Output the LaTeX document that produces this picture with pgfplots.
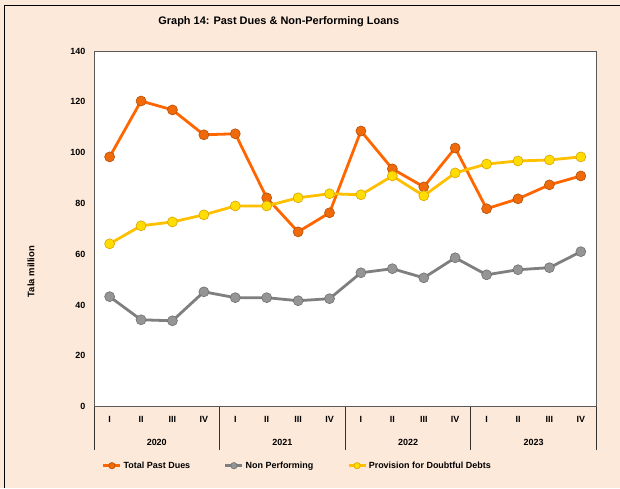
\documentclass[border=0pt]{standalone}
\usepackage{fontspec}
\setmainfont{Liberation Sans}
\usepackage{pgfplots}
\pgfplotsset{compat=1.18}
\definecolor{bg}{HTML}{FDE9DA}
\definecolor{tpd}{HTML}{FF6600}
\definecolor{tpdm}{HTML}{F06A0A}
\definecolor{np}{HTML}{7F7F7F}
\definecolor{npm}{HTML}{959595}
\definecolor{pdd}{HTML}{FFC000}
\definecolor{pddm}{HTML}{FFDD00}
\begin{document}
\begin{tikzpicture}[x=1bp,y=1bp]
\fill[bg] (0,0) rectangle (620,488);
\draw[black, line width=1bp] (5,0) -- (5,482) -- (620,482);
\node[font=\bfseries\fontsize{11}{13}\selectfont] at (279,466) {Graph 14: Past Dues \& Non-Performing Loans};
\begin{axis}[
  at={(94bp,81bp)}, anchor=south west,
  scale only axis, width=503bp, height=356bp,
  xmin=-0.5, xmax=15.5, ymin=0, ymax=140,
  ytick={0,20,...,140},
  xtick={0,...,15},
  xticklabels={I,II,III,IV,I,II,III,IV,I,II,III,IV,I,II,III,IV},
  major tick length=0,
  axis background/.style={fill=white},
  axis line style={draw=black!65, line width=0.8bp},
  tick label style={font=\bfseries\fontsize{9}{10}\selectfont},
  /pgf/number format/assume math mode=true,
  yticklabel style={xshift=-5bp},
  xticklabel style={yshift=-6bp},
  ylabel={Tala million},
  ylabel style={font=\bfseries\fontsize{9.5}{11}\selectfont, at={(axis description cs:-0.125,0.38)}, anchor=center, rotate=0},
  clip=false,
  legend columns=3,
  legend style={at={(0.405,-0.166)}, anchor=center, draw=none, fill=none,
    font=\bfseries\fontsize{9}{10}\selectfont,
    /tikz/every odd column/.append style={column sep=0bp},
    /tikz/every even column/.append style={column sep=32bp}},
  legend image code/.code={
    \draw[#1, line width=2.5bp] (0bp,0bp) -- (17bp,0bp);
    \draw[#1, mark size=3.2bp] plot coordinates {(8.5bp,0bp)};
  },
]
\addplot[tpd, line width=2.8bp, mark=*, mark size=5bp, mark options={fill=tpdm, draw=tpdm!75!black, line width=0.6bp}] coordinates {
(0,98.3) (1,120.3) (2,116.8) (3,107) (4,107.4) (5,82.2) (6,68.8) (7,76.3)
(8,108.5) (9,93.6) (10,86.5) (11,101.8) (12,77.9) (13,81.8) (14,87.3) (15,90.8)};
\addlegendentry{Total Past Dues}
\addplot[np, line width=2.8bp, mark=*, mark size=5bp, mark options={fill=npm, draw=npm!75!black, line width=0.6bp}] coordinates {
(0,43.3) (1,34.2) (2,33.8) (3,45.2) (4,42.9) (5,42.9) (6,41.7) (7,42.5)
(8,52.7) (9,54.3) (10,50.7) (11,58.6) (12,51.9) (13,53.9) (14,54.7) (15,61)};
\addlegendentry{Non Performing}
\addplot[pdd, line width=2.8bp, mark=*, mark size=5bp, mark options={fill=pddm, draw=pdd!85!black, line width=0.6bp}] coordinates {
(0,64.1) (1,71.2) (2,72.7) (3,75.5) (4,79) (5,79) (6,82.2) (7,83.8)
(8,83.4) (9,90.8) (10,83) (11,92) (12,95.5) (13,96.7) (14,97.1) (15,98.3)};
\addlegendentry{Provision for Doubtful Debts}
\draw[black!80, line width=0.8bp] (axis cs:-0.5,0) -- ++(0bp,-43bp);
\draw[black!80, line width=0.8bp] (axis cs:3.5,0) -- ++(0bp,-43bp);
\draw[black!80, line width=0.8bp] (axis cs:7.5,0) -- ++(0bp,-43bp);
\draw[black!80, line width=0.8bp] (axis cs:11.5,0) -- ++(0bp,-43bp);
\draw[black!80, line width=0.8bp] (axis cs:15.5,0) -- ++(0bp,-43bp);
\node[font=\bfseries\fontsize{9}{10}\selectfont] at ([yshift=-36bp]axis cs:1.5,0) {2020};
\node[font=\bfseries\fontsize{9}{10}\selectfont] at ([yshift=-36bp]axis cs:5.5,0) {2021};
\node[font=\bfseries\fontsize{9}{10}\selectfont] at ([yshift=-36bp]axis cs:9.5,0) {2022};
\node[font=\bfseries\fontsize{9}{10}\selectfont] at ([yshift=-36bp]axis cs:13.5,0) {2023};
\end{axis}
\end{tikzpicture}
\end{document}
